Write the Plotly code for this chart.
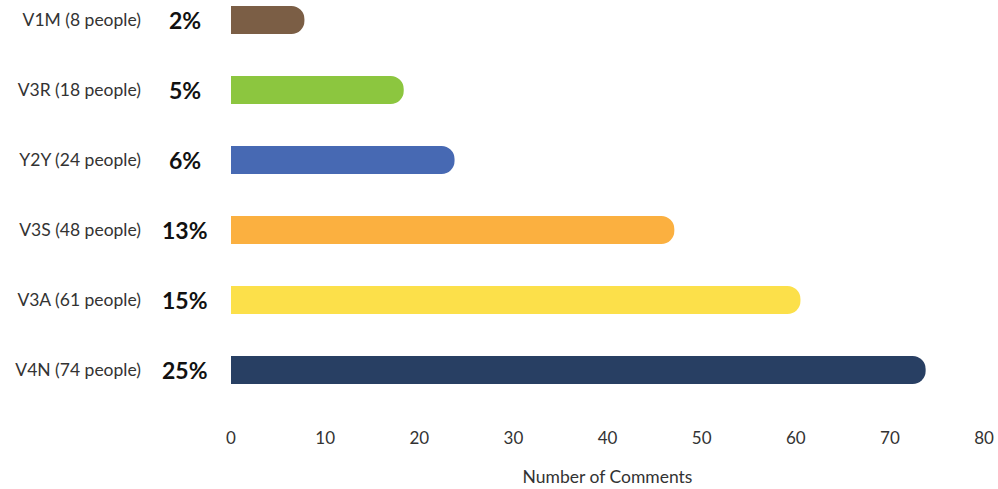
import plotly.graph_objects as go

categories = ["V1M (8 people)", "V3R (18 people)", "Y2Y (24 people)",
              "V3S (48 people)", "V3A (61 people)", "V4N (74 people)"]
comments = [7.8, 18.35, 23.75, 47.1, 60.5, 73.8]
percents = ["2%", "5%", "6%", "13%", "15%", "25%"]
colors = ["#7b5e45", "#8cc63f", "#4769b3", "#fbb040", "#fce04a", "#283f63"]
x_ticks = [0, 10, 20, 30, 40, 50, 60, 70, 80]

FONT = "Lato, 'Open Sans', sans-serif"
TXT = "#333333"

fig = go.Figure()
fig.add_trace(go.Bar(
    y=categories, x=comments, orientation="h",
    marker=dict(color=colors, cornerradius=13, line=dict(width=0)),
    width=0.4, hoverinfo="x+y",
))

for cat, p in zip(categories, percents):
    fig.add_annotation(x=-0.061, xref="paper", y=cat, yref="y", text=f"<b>{p}</b>",
                       showarrow=False, xanchor="center", yanchor="middle",
                       font=dict(family=FONT, size=23, color="#111111"))

fig.update_layout(
    width=998, height=489,
    margin=dict(l=231, r=14, t=5, b=79),
    paper_bgcolor="white", plot_bgcolor="white",
    showlegend=False,
    font=dict(family=FONT, size=17, color=TXT),
    xaxis=dict(range=[0, 80], tickvals=x_ticks, showgrid=False, zeroline=False,
               showline=False, ticks="", ticklabelstandoff=16,
               tickfont=dict(size=17, color=TXT),
               title=dict(text="Number of Comments", standoff=23,
                          font=dict(size=17.5, color=TXT))),
    yaxis=dict(type="category", categoryorder="array", categoryarray=categories,
               range=[5.571, -0.214], showgrid=False, zeroline=False, showline=False,
               ticks="", ticklabelstandoff=89,
               tickfont=dict(size=17.5, color=TXT)),
)

fig.write_html("out.html", config={"displayModeBar": False},
               post_script="document.body.style.margin='0px';")
